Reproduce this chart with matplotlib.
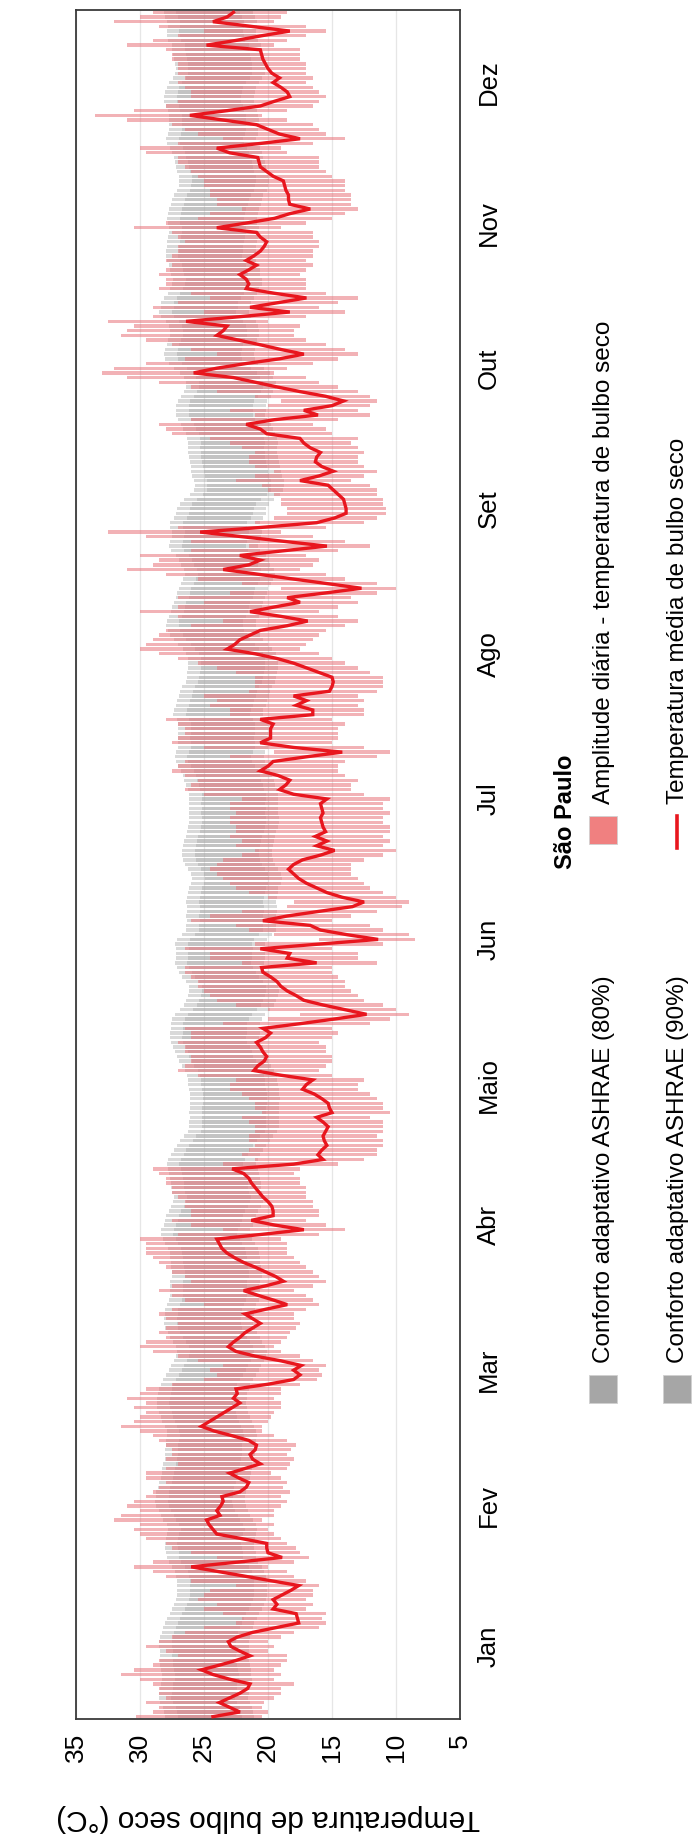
"""Daily dry-bulb temperature for São Paulo against the ASHRAE adaptive comfort bands."""

import matplotlib

matplotlib.use("Agg")

import matplotlib.pyplot as plt
import numpy as np
from matplotlib.lines import Line2D
from matplotlib.patches import Rectangle


OUTPUT_PATH = "out.png"
FIG_W, FIG_H = 692, 1847

MONTHS = ["Jan", "Fev", "Mar", "Abr", "Maio", "Jun",
          "Jul", "Ago", "Set", "Out", "Nov", "Dez"]
MONTH_MID_DAYS = [16, 46, 75, 106, 136, 167, 197, 228, 259, 289, 320, 350]
TEMP_TICKS = [35, 30, 25, 20, 15, 10, 5]

# daily mean dry-bulb temperature (°C), one value per day of the year
T_MEAN = [
    # Jan
    24.3, 22.2, 23.0, 23.8, 23.0, 22.2, 21.6, 21.4, 23.0, 24.3, 25.2, 23.8, 22.5, 21.4, 22.2, 22.9,
    23.1, 22.4, 21.2, 19.4, 17.6, 17.7, 17.8, 19.6, 19.3, 19.6, 18.9, 18.2, 17.6, 19.7, 21.8,
    # Fev
    23.9, 26.0, 22.4, 18.9, 20.0, 20.1, 20.1, 22.0, 24.0, 24.3, 24.6, 24.8, 23.75, 24.0,
    23.7, 23.5, 23.6, 22.2, 21.7, 21.5, 22.3, 23.0, 21.8, 20.6, 21.2, 21.4, 21.0, 20.9,
    # Mar
    21.5, 22.8, 24.2, 25.2, 24.6, 24.0, 23.4, 22.8, 22.2, 22.7, 22.4, 22.5, 20.0, 18.0, 17.5, 18.0,
    17.4, 19.0, 21.0, 22.5, 23.1, 22.7, 22.2, 21.8, 21.2, 20.6, 21.2, 21.8, 20.2, 18.5, 19.6,
    # Abr
    20.8, 21.9, 20.2, 18.8, 19.4, 20.2, 21.0, 21.9, 22.6, 23.2, 23.6, 23.8, 24.0, 20.5, 17.2,
    19.5, 21.3, 19.6, 19.6, 19.7, 20.0, 20.4, 20.7, 21.0, 21.3, 21.5, 21.9, 22.8, 18.0, 15.7,
    # Maio
    16.1, 15.8, 15.4, 15.6, 15.7, 15.5, 15.3, 15.7, 16.2, 15.0, 15.2, 15.3, 15.8, 16.4, 17.3, 17.0,
    16.5, 19.0, 21.1, 20.8, 20.3, 20.1, 20.4, 20.6, 20.9, 20.2, 19.8, 20.4, 17.5, 14.8, 12.3,
    # Jun
    14.0, 15.7, 17.2, 17.8, 18.5, 19.0, 19.3, 19.8, 20.4, 20.5, 16.2, 18.5, 18.3, 20.6, 16.0,
    11.4, 13.8, 15.9, 16.7, 20.4, 18.5, 16.0, 13.4, 12.5, 14.2, 15.4, 16.2, 17.0, 17.6, 18.0,
    # Jul
    18.4, 18.0, 17.3, 15.9, 14.8, 16.2, 15.4, 16.3, 15.5, 15.7, 15.8, 15.9, 15.7, 15.8, 15.9, 15.4,
    18.0, 19.1, 18.6, 18.3, 19.2, 20.6, 20.0, 19.6, 17.0, 14.2, 18.0, 20.6, 19.8, 19.8, 19.8,
    # Ago
    19.6, 20.6, 16.5, 16.5, 17.8, 17.0, 18.0, 15.2, 15.0, 14.9, 15.0, 16.0, 17.0, 18.0, 19.3, 21.0,
    23.2, 22.6, 22.2, 21.4, 20.6, 18.5, 16.9, 19.0, 21.4, 19.5, 17.5, 18.5, 15.5, 12.7, 15.4,
    # Set
    18.1, 20.8, 23.5, 21.5, 20.6, 22.2, 18.8, 15.4, 18.7, 22.0, 25.3, 20.5, 16.2, 14.8, 13.9,
    13.9, 14.0, 14.1, 14.5, 14.9, 15.3, 17.5, 16.0, 14.9, 15.8, 16.3, 16.2, 15.9, 16.7, 17.2,
    # Out
    17.5, 20.1, 20.6, 21.7, 19.5, 16.1, 17.2, 15.0, 14.1, 15.5, 17.5, 19.3, 21.0, 22.7, 25.8, 24.0,
    21.7, 19.1, 17.2, 19.0, 20.6, 22.3, 24.0, 23.5, 23.2, 26.4, 22.2, 18.3, 21.4, 19.2, 17.0,
    # Nov
    19.5, 21.7, 21.5, 21.7, 22.2, 21.5, 20.9, 21.7, 21.1, 20.6, 20.3, 20.1, 20.6, 20.9, 24.0,
    21.7, 19.5, 18.3, 16.7, 18.3, 18.4, 18.4, 18.6, 18.7, 18.8, 19.6, 20.1, 20.6, 20.7, 20.8,
    # Dez
    23.0, 24.0, 20.6, 17.5, 19.1, 20.0, 20.9, 23.5, 26.1, 23.2, 20.6, 19.5, 18.3, 18.5, 19.0, 19.6,
    19.1, 19.7, 20.0, 20.2, 20.4, 20.5, 20.6, 24.8, 22.5, 20.5, 18.3, 21.3, 24.3, 23.2, 22.7,
]

# daily maximum (°C)
T_MAX = [
    30.3, 29.0, 28.5, 29.5, 28.0, 28.5, 28.5, 29.0, 30.0, 31.5, 30.5, 29.0, 28.5, 27.0, 28.0, 29.5,
    28.5, 27.5, 26.5, 25.0, 22.5, 22.0, 23.5, 25.0, 24.0, 25.5, 25.0, 24.5, 22.5, 26.0, 28.0,
    29.0, 30.5, 29.0, 24.0, 26.0, 27.5, 28.0, 29.5, 30.0, 30.5, 30.0, 32.0, 31.5, 30.0,
    31.0, 30.5, 29.5, 29.0, 28.5, 28.0, 29.5, 29.5, 28.0, 27.0, 28.0, 27.5, 27.5, 28.0,
    28.5, 29.0, 30.0, 31.5, 30.5, 30.0, 29.5, 30.5, 29.5, 31.0, 30.0, 29.5, 27.5, 25.0, 24.0, 24.5,
    23.5, 25.5, 27.0, 29.0, 30.0, 29.5, 28.0, 28.5, 28.0, 27.0, 28.0, 28.5, 27.5, 25.0, 26.5,
    27.5, 28.5, 27.5, 26.0, 26.5, 27.5, 28.0, 28.5, 29.0, 29.5, 29.5, 29.5, 30.0, 27.0, 23.5,
    26.0, 27.5, 26.0, 26.0, 26.5, 26.5, 27.0, 27.5, 27.5, 28.0, 28.0, 28.5, 29.0, 23.5, 21.0,
    22.0, 21.5, 21.0, 21.5, 21.5, 21.0, 21.0, 21.5, 22.0, 20.5, 21.0, 21.0, 21.5, 22.0, 23.0, 23.0,
    22.5, 25.5, 27.0, 26.5, 26.0, 26.0, 26.5, 26.5, 27.0, 26.0, 26.0, 26.5, 23.5, 20.0, 17.5,
    20.0, 22.5, 24.0, 24.5, 25.0, 25.5, 25.5, 26.0, 26.5, 26.5, 22.0, 24.5, 24.5, 26.5, 21.0,
    16.0, 19.5, 21.5, 22.5, 26.0, 24.5, 22.0, 18.5, 18.0, 20.0, 21.5, 22.5, 23.0, 23.5, 24.0,
    24.5, 24.0, 23.5, 22.0, 21.0, 22.5, 22.0, 23.0, 22.5, 22.5, 23.0, 23.0, 22.5, 23.0, 23.0, 22.0,
    25.0, 26.5, 26.0, 25.5, 26.5, 27.5, 27.0, 26.5, 23.0, 19.5, 25.0, 27.5, 27.0, 26.5, 26.5,
    27.0, 28.0, 23.0, 23.0, 24.5, 24.0, 25.0, 21.5, 21.0, 21.0, 21.0, 22.5, 24.0, 25.5, 27.0, 28.5,
    30.0, 29.5, 29.0, 28.5, 28.0, 26.0, 23.5, 27.0, 30.0, 27.0, 25.0, 27.0, 23.0, 19.0, 22.0,
    25.5, 28.0, 31.0, 29.0, 28.5, 30.0, 26.0, 21.5, 26.0, 29.5, 32.5, 27.0, 21.0, 19.5, 18.5,
    18.5, 19.0, 19.0, 19.5, 20.0, 20.5, 22.5, 21.0, 19.5, 21.0, 21.5, 21.5, 21.0, 22.0, 23.0,
    24.5, 27.5, 28.0, 28.5, 26.0, 21.0, 23.0, 20.0, 19.0, 21.0, 24.0, 26.0, 28.5, 31.0, 33.0, 32.0,
    29.5, 26.5, 24.0, 26.0, 27.5, 29.5, 31.5, 31.0, 30.5, 32.5, 29.0, 25.0, 29.0, 27.0, 24.5,
    26.0, 28.5, 28.0, 28.0, 28.5, 28.0, 27.5, 28.0, 27.5, 27.0, 27.0, 26.5, 27.0, 27.5, 30.5,
    28.0, 25.5, 24.5, 22.0, 24.0, 24.0, 24.5, 24.5, 25.0, 25.0, 25.5, 26.0, 26.5, 27.0, 27.0,
    29.5, 30.0, 27.0, 23.5, 25.5, 26.5, 27.5, 31.0, 33.5, 30.5, 28.0, 27.0, 26.0, 26.0, 26.5, 27.0,
    26.5, 27.0, 27.0, 27.0, 27.5, 27.5, 28.0, 31.0, 29.0, 27.0, 25.0, 28.5, 32.0, 30.0, 29.0,
]

# daily minimum (°C)
T_MIN = [
    20.5, 20.0, 20.5, 20.3, 19.5, 19.0, 19.0, 18.0, 19.5, 19.0, 19.5, 19.0, 18.5, 18.5, 20.0, 19.5,
    20.0, 19.0, 18.0, 16.0, 15.5, 15.8, 15.5, 17.0, 16.5, 17.0, 16.5, 16.5, 16.0, 17.0, 18.0,
    18.5, 20.0, 18.0, 16.8, 17.5, 17.8, 18.5, 19.0, 19.5, 20.0, 19.5, 20.5, 19.5, 19.5,
    19.0, 18.5, 19.0, 18.3, 18.8, 18.5, 19.0, 19.8, 18.5, 18.3, 18.0, 18.5, 18.2, 17.8,
    18.5, 19.5, 20.5, 20.5, 20.0, 19.8, 19.5, 19.0, 19.0, 19.5, 19.0, 19.0, 17.5, 16.2, 15.8, 16.0,
    15.5, 16.5, 17.5, 19.0, 19.5, 19.0, 18.5, 18.3, 17.8, 17.5, 18.0, 18.0, 17.0, 16.0, 16.5,
    17.0, 18.0, 16.5, 15.5, 16.0, 16.5, 17.0, 17.5, 18.0, 18.5, 18.5, 18.5, 19.0, 16.0, 14.0,
    15.5, 17.0, 16.0, 16.0, 16.5, 16.5, 17.0, 17.0, 17.0, 17.5, 17.5, 18.0, 17.5, 14.5, 12.5,
    11.5, 11.5, 11.0, 11.0, 11.5, 11.0, 11.0, 11.0, 12.0, 10.5, 11.0, 11.0, 11.5, 12.0, 13.0, 13.0,
    12.5, 15.0, 16.0, 15.5, 15.0, 15.0, 15.5, 15.5, 16.0, 15.0, 14.5, 15.0, 12.0, 10.5, 9.0,
    10.0, 11.0, 12.5, 13.0, 13.5, 14.0, 14.0, 14.5, 15.0, 15.0, 11.5, 13.0, 13.0, 15.0, 11.0,
    8.5, 9.0, 11.0, 12.0, 15.0, 13.5, 11.5, 9.5, 9.0, 10.0, 11.0, 12.0, 12.5, 13.0, 13.5,
    13.5, 13.5, 12.5, 11.0, 10.0, 11.0, 10.5, 11.0, 10.5, 10.5, 11.0, 11.0, 10.5, 11.0, 11.0, 10.5,
    12.5, 13.5, 13.5, 13.0, 14.0, 14.5, 14.5, 14.0, 11.5, 10.5, 12.5, 15.0, 14.5, 14.5, 14.5,
    14.0, 15.0, 12.5, 12.5, 13.0, 12.5, 13.0, 11.5, 11.0, 11.0, 11.0, 12.0, 13.0, 14.0, 15.0, 16.0,
    17.5, 17.0, 16.5, 16.0, 15.5, 14.0, 13.0, 14.5, 16.0, 14.5, 13.0, 13.5, 11.5, 10.0, 11.5,
    14.0, 15.5, 17.5, 16.5, 16.0, 17.0, 14.5, 12.0, 14.0, 16.5, 19.0, 15.5, 12.5, 11.5, 10.8,
    10.8, 11.0, 11.0, 11.5, 11.5, 12.0, 13.5, 12.5, 11.5, 12.5, 13.0, 13.0, 12.5, 13.0, 13.5,
    13.0, 15.0, 15.5, 16.5, 14.5, 12.0, 13.0, 12.0, 11.5, 12.0, 13.0, 14.5, 16.0, 17.0, 19.5, 18.5,
    16.5, 14.5, 13.0, 14.0, 15.5, 17.0, 18.0, 18.0, 17.5, 20.0, 17.0, 14.0, 16.0, 14.5, 13.0,
    15.5, 17.0, 17.0, 17.0, 17.5, 17.0, 16.5, 17.0, 16.5, 16.5, 16.0, 16.0, 16.5, 16.5, 19.0,
    17.0, 15.0, 14.0, 13.0, 13.5, 13.5, 13.5, 14.0, 14.0, 14.0, 15.0, 15.5, 16.0, 16.0, 16.0,
    18.5, 19.0, 16.5, 14.0, 15.5, 16.0, 16.5, 18.5, 20.5, 18.5, 16.5, 16.0, 15.5, 16.0, 16.5, 17.0,
    16.5, 17.0, 17.0, 17.0, 17.5, 17.5, 17.5, 19.5, 18.5, 17.0, 15.5, 17.0, 19.5, 19.0, 18.5,
]

# ASHRAE 55 adaptive model: comfort = 0.31 * prevailing mean outdoor + 17.8
ASHRAE_SLOPE = 0.31
ASHRAE_OFFSET = 17.8
HALF_WIDTH_80 = 3.5
HALF_WIDTH_90 = 2.5
PREVAILING_DAYS = 7

GRAY = "#a6a6a6"
PINK = "#e8737a"
RED = "#e8161e"
FONT = ["Liberation Sans", "DejaVu Sans"]


def fx(px: float) -> float:
    return px / FIG_W


def fy(py: float) -> float:
    return 1 - py / FIG_H


def comfort_center(mean: np.ndarray) -> np.ndarray:
    """Prevailing mean of the previous days, wrapped over the year."""
    n = len(mean)
    prevailing = np.array(
        [mean[(i - np.arange(1, PREVAILING_DAYS + 1)) % n].mean() for i in range(n)]
    )
    return ASHRAE_SLOPE * prevailing + ASHRAE_OFFSET


def main() -> None:
    t_mean = np.asarray(T_MEAN)
    t_max = np.asarray(T_MAX)
    t_min = np.asarray(T_MIN)
    if not len(t_mean) == len(t_max) == len(t_min) == 365:
        raise ValueError(f"Expected 365 days, got {len(t_mean)}, {len(t_max)}, {len(t_min)}")

    days = np.arange(1, 366)
    center = comfort_center(t_mean)

    plt.rcParams["font.family"] = FONT
    fig = plt.figure(figsize=(FIG_W / 100, FIG_H / 100), dpi=100, facecolor="white")
    ax = fig.add_axes([fx(76), fy(1719), fx(460) - fx(76), fy(10) - fy(1719)])

    bar_h = 0.72
    ax.barh(days, 2 * HALF_WIDTH_80, left=center - HALF_WIDTH_80, height=bar_h,
            color=GRAY, alpha=0.42, linewidth=0, zorder=2)
    ax.barh(days, 2 * HALF_WIDTH_90, left=center - HALF_WIDTH_90, height=bar_h,
            color=GRAY, alpha=0.42, linewidth=0, zorder=2)
    ax.barh(days, t_max - t_min, left=t_min, height=bar_h,
            color=PINK, alpha=0.55, linewidth=0, zorder=3)
    ax.plot(t_mean, days, color=RED, lw=2.4, zorder=5, solid_joinstyle="miter")

    ax.set_xlim(35, 5)
    ax.set_ylim(0.5, 365.5)
    ax.set_xticks(TEMP_TICKS)
    ax.set_xticklabels([str(t) for t in TEMP_TICKS], rotation=90, fontsize=19)
    ax.yaxis.tick_right()
    ax.set_yticks(MONTH_MID_DAYS)
    ax.set_yticklabels(MONTHS, rotation=90, fontsize=18.5, va="center")
    ax.tick_params(axis="x", length=0, pad=10)
    ax.tick_params(axis="y", length=0, pad=12)
    ax.grid(axis="x", color="#e6e6e6", lw=0.9)
    ax.set_axisbelow(True)
    for spine in ax.spines.values():
        spine.set_color("#3a3a3a")
        spine.set_linewidth(1.3)

    fig.text(fx(268), fy(1818), "Temperatura de bulbo seco (°C)", rotation=180,
             ha="center", va="center", fontsize=21.5)
    fig.text(fx(566), fy(812), "São Paulo", rotation=90, ha="center", va="center",
             fontsize=17, fontweight="bold")

    # legend, built by hand so the labels can run vertically
    key = 28
    entries = [
        (603, 1389, "square", GRAY, "Conforto adaptativo ASHRAE (80%)"),
        (677, 1389, "square", GRAY, "Conforto adaptativo ASHRAE (90%)"),
        (603, 830, "square", "#f08080", "Amplitude diária - temperatura de bulbo seco"),
        (677, 830, "line", RED, "Temperatura média de bulbo seco"),
    ]
    for x, y, kind, color, label in entries:
        if kind == "square":
            fig.add_artist(Rectangle((fx(x - key / 2), fy(y + key / 2)), key / FIG_W, key / FIG_H,
                                     transform=fig.transFigure, facecolor=color,
                                     edgecolor="#d0d0d0", lw=0.6))
        else:
            fig.add_artist(Line2D([fx(x), fx(x)], [fy(y + key / 2 + 4), fy(y - key / 2)],
                                  transform=fig.transFigure, color=color, lw=2.6))
        fig.text(fx(x + 1), fy(y - key / 2 - 12), label, rotation=90, ha="center",
                 va="bottom", fontsize=17.5)

    fig.savefig(OUTPUT_PATH, dpi=100, facecolor="white")
    plt.close(fig)


if __name__ == "__main__":
    main()
